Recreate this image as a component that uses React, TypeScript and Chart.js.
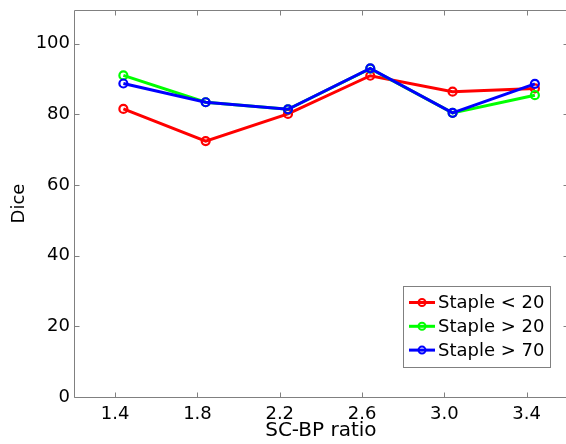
import React, { useEffect, useRef } from 'react';
import { Chart, registerables } from 'chart.js';

Chart.register(...registerables);

const ratios = [1.44, 1.84, 2.24, 2.64, 3.04, 3.44];
const stapleLt20 = [81.5, 72.4, 80.1, 90.9, 86.4, 87.3];
const stapleGt20 = [91.0, 83.4, 81.4, 92.9, 80.4, 85.4];
const stapleGt70 = [88.7, 83.4, 81.4, 93.0, 80.4, 88.6];
const xTicks = [1.4, 1.8, 2.2, 2.6, 3.0, 3.4];
const yTicks = [0, 20, 40, 60, 80, 100];
const seriesNames = ['Staple < 20', 'Staple > 20', 'Staple > 70'];
const seriesColors = ['#ff0000', '#00ff00', '#0000ff'];

const FONT = 'DejaVu Sans';
const AXIS_GREY = '#808080';
const CANVAS_W = 574;
const CANVAS_H = 444;

const boxPlugin = {
  id: 'matlabBox',
  afterDatasetsDraw(chart: any) {
    const { ctx, chartArea, scales } = chart;
    const { left, right, top, bottom } = chartArea;
    const x = scales.x;
    const y = scales.y;
    ctx.save();
    ctx.strokeStyle = AXIS_GREY;
    ctx.lineWidth = 1;
    ctx.beginPath();
    const l = Math.round(left) + 0.5;
    const r = Math.round(right) + 0.5;
    const t = Math.round(top) + 0.5;
    const b = Math.round(bottom) + 0.5;
    ctx.moveTo(l, t);
    ctx.lineTo(r, t);
    ctx.lineTo(r, b);
    ctx.lineTo(l, b);
    ctx.closePath();
    const tl = 5;
    xTicks.forEach((v) => {
      const px = Math.round(x.getPixelForValue(v)) + 0.5;
      ctx.moveTo(px, b);
      ctx.lineTo(px, b - tl);
      ctx.moveTo(px, t);
      ctx.lineTo(px, t + tl);
    });
    yTicks.forEach((v) => {
      const py = Math.round(y.getPixelForValue(v)) + 0.5;
      ctx.moveTo(l, py);
      ctx.lineTo(l + tl, py);
      ctx.moveTo(r, py);
      ctx.lineTo(r - tl, py);
    });
    ctx.stroke();
    ctx.restore();
  },
};

const legendPlugin = {
  id: 'matlabLegend',
  afterDraw(chart: any) {
    const { ctx } = chart;
    const bx = 403.5;
    const by = 286.5;
    const bw = 147;
    const bh = 81;
    ctx.save();
    ctx.fillStyle = '#ffffff';
    ctx.fillRect(bx, by, bw, bh);
    ctx.strokeStyle = AXIS_GREY;
    ctx.lineWidth = 1;
    ctx.strokeRect(bx, by, bw, bh);
    ctx.font = `18px "${FONT}"`;
    ctx.textBaseline = 'middle';
    ctx.textAlign = 'left';
    seriesNames.forEach((name, i) => {
      const cy = 302.5 + i * 23.8;
      ctx.strokeStyle = seriesColors[i];
      ctx.lineWidth = 3;
      ctx.beginPath();
      ctx.moveTo(409, cy);
      ctx.lineTo(435, cy);
      ctx.stroke();
      ctx.lineWidth = 2;
      ctx.beginPath();
      ctx.arc(422, cy, 3.5, 0, Math.PI * 2);
      ctx.stroke();
      ctx.fillStyle = '#000000';
      ctx.fillText(name, 438, cy + 1);
    });
    ctx.restore();
  },
};

const zeroPadding = (s: any) => {
  s.paddingTop = 0;
  s.paddingBottom = 0;
  s.paddingLeft = 0;
  s.paddingRight = 0;
};

export default function App() {
  const canvasRef = useRef<HTMLCanvasElement | null>(null);

  useEffect(() => {
    const canvas = canvasRef.current;
    if (!canvas) return;
    const series = [stapleLt20, stapleGt20, stapleGt70];
    const chart = new Chart(canvas, {
      type: 'line',
      data: {
        datasets: series.map((vals, i) => ({
          label: seriesNames[i],
          data: ratios.map((r, j) => ({ x: r, y: vals[j] })),
          borderColor: seriesColors[i],
          backgroundColor: 'transparent',
          pointBorderColor: seriesColors[i],
          pointBackgroundColor: 'transparent',
          pointRadius: 4,
          pointBorderWidth: 2.2,
          borderWidth: 3,
          tension: 0,
          fill: false,
          order: 2 - i,
        })),
      },
      options: {
        animation: false,
        responsive: false,
        maintainAspectRatio: false,
        devicePixelRatio: 1,
        layout: { padding: { top: 10, right: 0, left: 0, bottom: 0 } },
        plugins: {
          legend: { display: false },
          tooltip: { enabled: false },
        },
        scales: {
          x: {
            type: 'linear',
            min: 1.2,
            max: 3.6,
            afterBuildTicks: (s: any) => {
              s.ticks = xTicks.map((v) => ({ value: v }));
            },
            afterFit: (s: any) => {
              s.height = 47;
              zeroPadding(s);
            },
            grid: { display: false, drawTicks: false },
            border: { display: false },
            ticks: {
              color: '#000000',
              font: { family: FONT, size: 18 },
              padding: 7,
              maxRotation: 0,
              autoSkip: false,
              callback: (v: any) => Number(v).toFixed(1),
            },
            title: {
              display: true,
              text: 'SC-BP ratio',
              color: '#000000',
              font: { family: FONT, size: 20 },
              padding: { top: 0, bottom: 1 },
            },
          },
          y: {
            type: 'linear',
            min: 0,
            max: 109.5,
            afterBuildTicks: (s: any) => {
              s.ticks = yTicks.map((v) => ({ value: v }));
            },
            afterFit: (s: any) => {
              s.width = 74;
              zeroPadding(s);
            },
            grid: { display: false, drawTicks: false },
            border: { display: false },
            ticks: {
              color: '#000000',
              font: { family: FONT, size: 18 },
              padding: 4,
              autoSkip: false,
            },
            title: {
              display: true,
              text: 'Dice',
              color: '#000000',
              font: { family: FONT, size: 18 },
              padding: { top: 9, bottom: 0 },
            },
          },
        },
      },
      plugins: [boxPlugin, legendPlugin],
    });
    return () => chart.destroy();
  }, []);

  return (
    <div style={{ position: 'fixed', left: 0, top: 0, width: 566, height: 444, overflow: 'hidden', background: '#ffffff' }}>
      <canvas
        ref={canvasRef}
        width={CANVAS_W}
        height={CANVAS_H}
        style={{ display: 'block', width: CANVAS_W, height: CANVAS_H }}
      />
    </div>
  );
}
